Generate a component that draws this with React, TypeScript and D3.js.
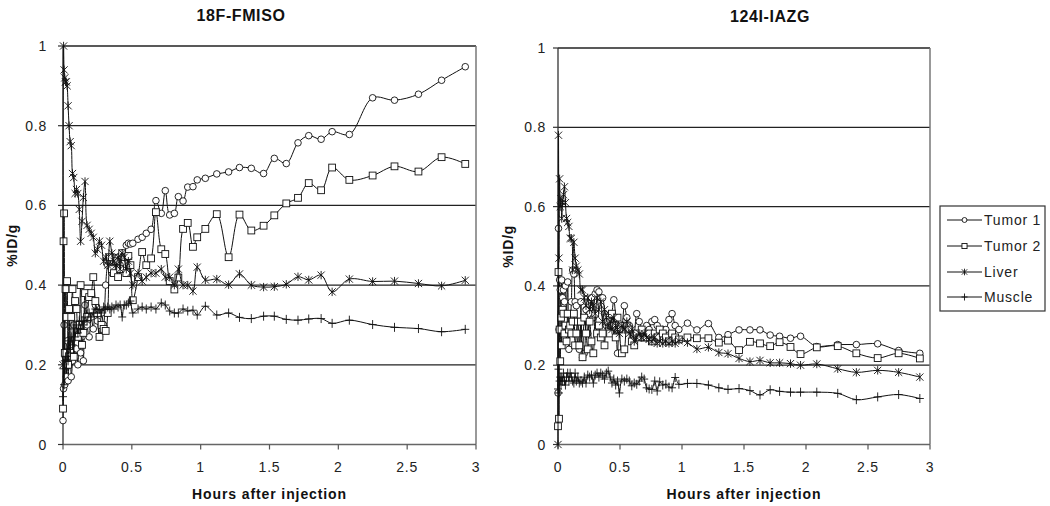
import React from "react";
import * as d3 from "d3";

// ---------- DATA ----------
const seriesNames = ["Tumor 1", "Tumor 2", "Liver", "Muscle"];
const xTicks = [0, 0.5, 1, 1.5, 2, 2.5, 3];
const xTickLabels = ["0", "0.5", "1", "1.5", "2", "2.5", "3"];
const yTicks = [0, 0.2, 0.4, 0.6, 0.8, 1];
const yTickLabels = ["0", "0.2", "0.4", "0.6", "0.8", "1"];

const leftHours = [
  0, 0.004, 0.008, 0.013, 0.018, 0.024, 0.03, 0.037, 0.044, 0.052,
  0.06, 0.069, 0.078, 0.088, 0.098, 0.108, 0.118, 0.128, 0.138, 0.148,
  0.16, 0.175, 0.19, 0.205, 0.22, 0.235, 0.25, 0.265, 0.28, 0.295,
  0.31, 0.325, 0.34, 0.355, 0.37, 0.385, 0.4, 0.415, 0.43, 0.445,
  0.46, 0.475, 0.49, 0.507, 0.545, 0.575, 0.605, 0.64, 0.675, 0.714,
  0.743, 0.775, 0.809, 0.838, 0.872, 0.906, 0.944, 0.975, 1.034, 1.117,
  1.203, 1.282, 1.368, 1.457, 1.535, 1.622, 1.707, 1.785, 1.875, 1.955,
  2.08, 2.249, 2.408, 2.582, 2.75, 2.922,
];
const leftTumor1 = [
  0.06, 0.14, 0.3, 0.15, 0.22, 0.17, 0.26, 0.16, 0.22, 0.25,
  0.17, 0.21, 0.3, 0.22, 0.24, 0.2, 0.28, 0.23, 0.27, 0.21,
  0.35, 0.3, 0.27, 0.32, 0.29, 0.35, 0.31, 0.27, 0.33, 0.3,
  0.4, 0.45, 0.46, 0.43, 0.47, 0.44, 0.47, 0.45, 0.48, 0.47,
  0.5, 0.505, 0.503, 0.505, 0.515, 0.52, 0.53, 0.54, 0.612, 0.58,
  0.637, 0.576, 0.58, 0.622, 0.611, 0.646, 0.647, 0.664, 0.668, 0.679,
  0.684, 0.695, 0.693, 0.68, 0.718, 0.705, 0.757, 0.775, 0.766, 0.785,
  0.778, 0.87, 0.864, 0.879, 0.914, 0.948,
];
const leftTumor2 = [
  0.09, 0.51, 0.58, 0.23, 0.39, 0.32, 0.41, 0.2, 0.34, 0.23,
  0.32, 0.39, 0.22, 0.36, 0.34, 0.27, 0.3, 0.4, 0.25, 0.28,
  0.38, 0.32, 0.37, 0.38, 0.42, 0.36, 0.33, 0.27, 0.3, 0.29,
  0.285, 0.33, 0.47, 0.44, 0.43, 0.46, 0.42, 0.44, 0.48, 0.47,
  0.43, 0.473, 0.45, 0.362, 0.42, 0.483, 0.45, 0.467, 0.583, 0.49,
  0.478, 0.41, 0.389, 0.419, 0.541, 0.556, 0.496, 0.52, 0.541, 0.578,
  0.47, 0.577, 0.537, 0.549, 0.575, 0.605, 0.619, 0.656, 0.638, 0.695,
  0.664, 0.675, 0.698, 0.685, 0.721, 0.704,
];
const leftLiver = [
  0.2, 1.0, 0.94, 0.92, 0.91, 0.91, 0.9, 0.85, 0.8, 0.76,
  0.75, 0.68, 0.67, 0.63, 0.64, 0.63, 0.59, 0.51, 0.56, 0.62,
  0.66, 0.55, 0.54, 0.53, 0.52, 0.48, 0.49, 0.51, 0.5, 0.46,
  0.47, 0.45, 0.51, 0.48, 0.46, 0.45, 0.47, 0.44, 0.48, 0.47,
  0.44, 0.46, 0.43, 0.4, 0.43, 0.41, 0.42, 0.43, 0.43, 0.44,
  0.42, 0.42, 0.4, 0.44, 0.4, 0.4, 0.385, 0.445, 0.413, 0.415,
  0.401, 0.428, 0.4, 0.395, 0.396, 0.402, 0.421, 0.413, 0.425, 0.383,
  0.415, 0.409, 0.41, 0.404, 0.398, 0.412,
];
const leftMuscle = [
  0.12, 0.19, 0.15, 0.21, 0.22, 0.19, 0.24, 0.21, 0.26, 0.23,
  0.27, 0.25, 0.29, 0.27, 0.3, 0.28, 0.31, 0.29, 0.31, 0.3,
  0.32, 0.31, 0.33, 0.32, 0.33, 0.34, 0.33, 0.34, 0.33, 0.345,
  0.34, 0.345, 0.34, 0.345, 0.34, 0.35, 0.345, 0.35, 0.32, 0.35,
  0.35, 0.355, 0.36, 0.33, 0.34, 0.345, 0.34, 0.345, 0.34, 0.355,
  0.35, 0.335, 0.33, 0.33, 0.34, 0.335, 0.337, 0.325, 0.347, 0.325,
  0.33, 0.319, 0.316, 0.322, 0.322, 0.314, 0.312, 0.315, 0.316, 0.304,
  0.312, 0.301, 0.294, 0.291, 0.283, 0.289,
];

const rightHours = [
  0, 0.004, 0.008, 0.013, 0.018, 0.024, 0.03, 0.037, 0.044, 0.052,
  0.06, 0.069, 0.078, 0.088, 0.098, 0.108, 0.118, 0.128, 0.138, 0.148,
  0.16, 0.172, 0.185, 0.198, 0.212, 0.226, 0.24, 0.255, 0.27, 0.285,
  0.3, 0.315, 0.33, 0.345, 0.36, 0.375, 0.39, 0.405, 0.42, 0.435,
  0.45, 0.465, 0.48, 0.495, 0.515, 0.535, 0.555, 0.575, 0.595, 0.615,
  0.635, 0.655, 0.675, 0.695, 0.715, 0.735, 0.757, 0.78, 0.8, 0.82,
  0.845, 0.87, 0.895, 0.92, 0.945, 0.975, 1.044, 1.12, 1.213, 1.297,
  1.371, 1.46, 1.548, 1.629, 1.711, 1.787, 1.875, 1.956, 2.087, 2.256,
  2.406, 2.578, 2.747, 2.918,
];
const rightTumor1 = [
  0.13, 0.545, 0.29, 0.415, 0.39, 0.335, 0.415, 0.37, 0.39, 0.36,
  0.4, 0.33, 0.41, 0.24, 0.3, 0.36, 0.44, 0.43, 0.36, 0.35,
  0.25, 0.24, 0.36, 0.22, 0.23, 0.34, 0.28, 0.33, 0.37, 0.32,
  0.38, 0.39, 0.385, 0.37, 0.37, 0.33, 0.3, 0.32, 0.3, 0.33,
  0.365, 0.32, 0.23, 0.29, 0.3, 0.35, 0.32, 0.3, 0.26, 0.28,
  0.33, 0.31, 0.29, 0.28, 0.3, 0.29, 0.31, 0.315, 0.3, 0.28,
  0.29, 0.29, 0.315, 0.33, 0.3, 0.29, 0.306, 0.289, 0.305, 0.27,
  0.277, 0.289, 0.289, 0.289, 0.276, 0.273, 0.268, 0.273, 0.247, 0.252,
  0.252, 0.254, 0.237, 0.23,
];
const rightTumor2 = [
  0.046, 0.435, 0.065, 0.29, 0.21, 0.32, 0.25, 0.34, 0.33, 0.28,
  0.3, 0.26, 0.33, 0.29, 0.3, 0.28, 0.31, 0.33, 0.25, 0.28,
  0.31, 0.25, 0.31, 0.22, 0.32, 0.28, 0.24, 0.31, 0.26, 0.23,
  0.33, 0.28, 0.3, 0.27, 0.28, 0.25, 0.32, 0.31, 0.28, 0.33,
  0.3, 0.27, 0.32, 0.29, 0.23, 0.24, 0.3, 0.29, 0.26, 0.25,
  0.28, 0.27, 0.29, 0.27, 0.27, 0.28, 0.26, 0.28, 0.27, 0.29,
  0.28, 0.27, 0.26, 0.28, 0.27, 0.265, 0.27, 0.268, 0.268, 0.257,
  0.262, 0.238, 0.259, 0.255, 0.248, 0.258, 0.246, 0.228, 0.245, 0.248,
  0.23, 0.218, 0.23, 0.217,
];
const rightLiver = [
  0.0, 0.78, 0.47, 0.67, 0.6, 0.62, 0.57, 0.61, 0.63, 0.65,
  0.61, 0.57, 0.56, 0.55, 0.52, 0.52, 0.44, 0.51, 0.47, 0.45,
  0.44, 0.43, 0.39, 0.39, 0.37, 0.35, 0.37, 0.34, 0.36, 0.35,
  0.33, 0.37, 0.34, 0.36, 0.31, 0.34, 0.32, 0.3, 0.31, 0.29,
  0.32, 0.3, 0.29, 0.28, 0.3, 0.29, 0.31, 0.28, 0.29, 0.26,
  0.27, 0.28, 0.27, 0.28, 0.27, 0.265, 0.26, 0.27, 0.255, 0.26,
  0.255, 0.26, 0.255, 0.26, 0.255, 0.262, 0.257, 0.241, 0.245, 0.232,
  0.229, 0.217, 0.209, 0.212, 0.206, 0.206, 0.204, 0.2, 0.203, 0.191,
  0.182, 0.187, 0.182, 0.17,
];
const rightMuscle = [
  0.14, 0.19, 0.13, 0.16, 0.17, 0.15, 0.17, 0.16, 0.18, 0.16,
  0.15, 0.17, 0.18, 0.16, 0.18, 0.17, 0.16, 0.155, 0.18, 0.16,
  0.17, 0.155, 0.16, 0.155, 0.17, 0.155, 0.175, 0.17, 0.175, 0.155,
  0.175, 0.18, 0.17, 0.18, 0.175, 0.165, 0.18, 0.185, 0.17, 0.155,
  0.165, 0.15, 0.16, 0.13, 0.165, 0.16, 0.165, 0.16, 0.148, 0.155,
  0.152, 0.16, 0.17, 0.165, 0.143, 0.14, 0.139, 0.16, 0.135, 0.158,
  0.15, 0.152, 0.145, 0.143, 0.169, 0.152, 0.154, 0.154, 0.15, 0.143,
  0.139, 0.141, 0.136, 0.125, 0.138, 0.134, 0.132, 0.132, 0.132, 0.129,
  0.113, 0.12, 0.126, 0.116,
];

// ---------- STYLE ----------
const FONT = "'Liberation Sans', Arial, Helvetica, sans-serif";
const INK = "#111";
const markerKinds = ["circle", "square", "star", "plus"];

function Marker({ kind, x, y, s = 1 }: { kind: string; x: number; y: number; s?: number }) {
  if (kind === "circle")
    return <circle cx={x} cy={y} r={3.3 * s} fill="#fff" stroke={INK} strokeWidth={0.9} />;
  if (kind === "square") {
    const h = 3.4 * s;
    return <rect x={x - h} y={y - h} width={2 * h} height={2 * h} fill="#fff" stroke={INK} strokeWidth={0.9} />;
  }
  if (kind === "star") {
    const a = 3.6 * s;
    return (
      <path
        d={`M${x - a},${y - a}L${x + a},${y + a}M${x - a},${y + a}L${x + a},${y - a}M${x},${y - a - 0.6}L${x},${y + a + 0.6}`}
        stroke={INK}
        strokeWidth={0.9}
        fill="none"
      />
    );
  }
  const a = 4 * s;
  return (
    <path d={`M${x - a},${y}L${x + a},${y}M${x},${y - a - 0.5}L${x},${y + a + 0.5}`} stroke={INK} strokeWidth={0.9} fill="none" />
  );
}

type PanelProps = {
  title: string;
  titleX: number;
  titleY: number;
  hours: number[];
  values: number[][];
  x0: number;
  x1: number;
  yTop: number;
  yBot: number;
  yLabelX: number;
  yTitleX: number;
};

function Panel(p: PanelProps) {
  const x = d3.scaleLinear().domain([0, 3]).range([p.x0, p.x1]);
  const y = d3.scaleLinear().domain([0, 1]).range([p.yBot, p.yTop]);
  const line = d3
    .line<[number, number]>()
    .x((d) => x(d[0]))
    .y((d) => y(d[1]))
    .curve(d3.curveCatmullRom.alpha(0.5));
  const midY = (p.yTop + p.yBot) / 2;
  return (
    <g>
      <text x={p.titleX} y={p.titleY} textAnchor="middle" fontFamily={FONT} fontWeight="bold" fontSize={16} letterSpacing={0.6} fill={INK}>
        {p.title}
      </text>
      {/* gridlines */}
      {yTicks.filter((t) => t > 0).map((t) => (
        <line key={"g" + t} x1={p.x0} x2={p.x1} y1={y(t)} y2={y(t)} stroke="#222" strokeWidth={1.3} />
      ))}
      {/* plot border right */}
      <line x1={p.x1} x2={p.x1} y1={p.yTop} y2={p.yBot} stroke="#777" strokeWidth={1.5} />
      {/* axes */}
      <line x1={p.x0} x2={p.x1} y1={p.yBot} y2={p.yBot} stroke="#666" strokeWidth={1.5} />
      <line x1={p.x0} x2={p.x0} y1={p.yTop} y2={p.yBot} stroke="#333" strokeWidth={1.3} />
      {xTicks.map((t, i) => (
        <g key={"xt" + t}>
          <line x1={x(t)} x2={x(t)} y1={p.yBot} y2={p.yBot + 5} stroke="#555" strokeWidth={1.2} />
          <text x={x(t)} y={472} textAnchor="middle" fontFamily={FONT} fontSize={14} letterSpacing={0.8} fill="#222">
            {xTickLabels[i]}
          </text>
        </g>
      ))}
      {yTicks.map((t, i) => (
        <g key={"yt" + t}>
          <line x1={p.x0 - 5} x2={p.x0} y1={y(t)} y2={y(t)} stroke="#333" strokeWidth={1.2} />
          <text x={p.yLabelX} y={y(t) + 5} textAnchor="end" fontFamily={FONT} fontSize={14} letterSpacing={0.8} fill="#222">
            {yTickLabels[i]}
          </text>
        </g>
      ))}
      <text x={(p.x0 + p.x1) / 2} y={499} textAnchor="middle" fontFamily={FONT} fontWeight="bold" fontSize={14} letterSpacing={0.9} fill={INK}>
        Hours after injection
      </text>
      <text
        transform={`translate(${p.yTitleX},${midY}) rotate(-90)`}
        textAnchor="middle"
        fontFamily={FONT}
        fontWeight="bold"
        fontSize={14}
        letterSpacing={0.8}
        fill={INK}
      >
        %ID/g
      </text>
      {/* series */}
      {p.values.map((vals, si) => {
        const pts = p.hours.map((h, i) => [h, vals[i]] as [number, number]);
        return (
          <g key={"s" + si}>
            <path d={line(pts) || ""} fill="none" stroke={INK} strokeWidth={1} />
            {pts.map((d, i) => (
              <Marker key={i} kind={markerKinds[si]} x={x(d[0])} y={y(d[1])} />
            ))}
          </g>
        );
      })}
    </g>
  );
}

function Legend() {
  const bx = 940, by = 206, bw = 105, bh = 105;
  const rows = [220, 246, 272, 297];
  return (
    <g>
      <rect x={bx} y={by} width={bw} height={bh} fill="#fff" stroke="#333" strokeWidth={1.2} />
      {seriesNames.map((name, i) => (
        <g key={name}>
          <line x1={947} x2={982} y1={rows[i]} y2={rows[i]} stroke={INK} strokeWidth={1} />
          <Marker kind={markerKinds[i]} x={964.5} y={rows[i]} s={0.75} />
          <text x={984} y={rows[i] + 5} fontFamily={FONT} fontSize={14} letterSpacing={0.8} fill="#222">
            {name}
          </text>
        </g>
      ))}
    </g>
  );
}

export default function App() {
  return (
    <svg
      width={1050}
      height={506}
      viewBox="0 0 1050 506"
      style={{ position: "absolute", left: 0, top: 0, display: "block", background: "#fff" }}
    >
      <rect x={0} y={0} width={1050} height={506} fill="#fff" />
      <Panel
        title="18F-FMISO"
        titleX={241}
        titleY={21}
        hours={leftHours}
        values={[leftTumor1, leftTumor2, leftLiver, leftMuscle]}
        x0={63}
        x1={476}
        yTop={46}
        yBot={444.5}
        yLabelX={47}
        yTitleX={17}
      />
      <Panel
        title="124I-IAZG"
        titleX={770}
        titleY={22}
        hours={rightHours}
        values={[rightTumor1, rightTumor2, rightLiver, rightMuscle]}
        x0={558}
        x1={930}
        yTop={48}
        yBot={444.5}
        yLabelX={546}
        yTitleX={513}
      />
      <Legend />
    </svg>
  );
}
